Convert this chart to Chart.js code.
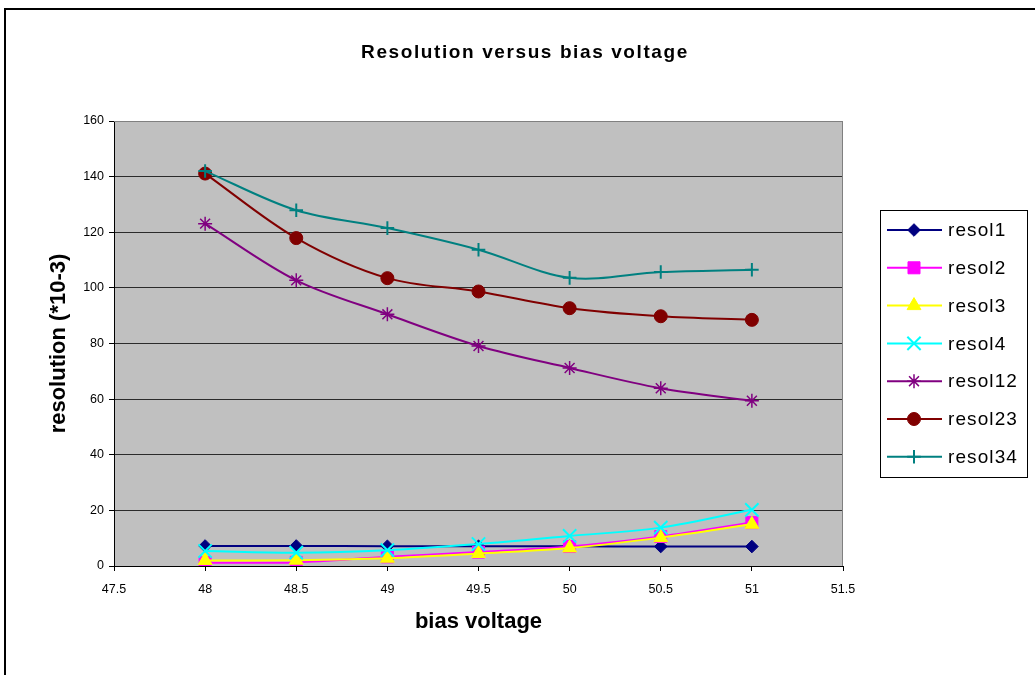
<!DOCTYPE html>
<html>
<head>
<meta charset="utf-8">
<title>Resolution versus bias voltage</title>
<script src="https://cdn.jsdelivr.net/npm/chart.js@4.4.1/dist/chart.umd.min.js"></script>
<style>
  body { margin: 0; background: #fff; }
  canvas { display: block; }
</style>
</head>
<body>
<canvas id="chart" width="1035" height="675"></canvas>
<script>
// bias voltage on x, resolution (*10-3) on y
const voltages = [48, 48.5, 49, 49.5, 50, 50.5, 51];
const resol1  = [7.2, 7.2, 7.1, 7.1, 7.1, 7.0, 7.0];
const resol2  = [1.2, 1.3, 3.3, 5.0, 7.0, 10.6, 15.6];
const resol3  = [2.0, 2.1, 2.8, 4.5, 6.5, 10.2, 15.0];
const resol4  = [5.4, 4.8, 5.7, 7.9, 10.8, 13.8, 20.2];
const resol12 = [123.1, 102.7, 90.5, 79.1, 71.2, 63.9, 59.4];
const resol23 = [141.1, 117.9, 103.5, 98.7, 92.7, 89.8, 88.5];
const resol34 = [142.0, 127.9, 121.5, 113.7, 103.6, 105.7, 106.5];

const seriesNames = ['resol1', 'resol2', 'resol3', 'resol4', 'resol12', 'resol23', 'resol34'];
const seriesValues = [resol1, resol2, resol3, resol4, resol12, resol23, resol34];

const xTicks = [47.5, 48, 48.5, 49, 49.5, 50, 50.5, 51, 51.5];
const yTicks = [0, 20, 40, 60, 80, 100, 120, 140, 160];

const FONT = '"Liberation Sans", Arial, sans-serif';

const markers = [
  { color: '#000080', style: 'rectRot', radius: 6.3, border: 1 },
  { color: '#ff00ff', style: 'rect', radius: 8.5, border: 1 },
  { color: '#ffff00', style: 'triangle', radius: 8, border: 1 },
  { color: '#00ffff', style: 'crossRot', radius: 9.4, border: 2 },
  { color: '#800080', style: 'star', radius: 7, border: 1.5 },
  { color: '#800000', style: 'circle', radius: 6.5, border: 1 },
  { color: '#008080', style: 'cross', radius: 6.8, border: 2 }
];

const datasets = seriesNames.map((name, i) => ({
  label: name,
  data: voltages.map((v, j) => ({ x: v, y: seriesValues[i][j] })),
  borderColor: markers[i].color,
  backgroundColor: markers[i].color,
  borderWidth: 2,
  tension: 0.33,
  pointStyle: markers[i].style,
  pointRadius: markers[i].radius,
  pointBorderWidth: markers[i].border,
  pointBackgroundColor: markers[i].color,
  pointBorderColor: markers[i].color,
  order: seriesNames.length - i
}));

const decor = {
  id: 'decor',
  beforeDraw(chart) {
    const { ctx, chartArea: a } = chart;
    ctx.save();
    ctx.fillStyle = '#fff';
    ctx.fillRect(0, 0, chart.width, chart.height);
    ctx.fillStyle = '#c0c0c0';
    ctx.fillRect(a.left, a.top, a.right - a.left, a.bottom - a.top);
    ctx.restore();
  },
  beforeDatasetsDraw(chart) {
    const { ctx, chartArea: a } = chart;
    ctx.save();
    ctx.strokeStyle = '#808080';
    ctx.lineWidth = 1;
    ctx.beginPath();
    ctx.moveTo(a.left, a.top + 0.5);
    ctx.lineTo(a.right - 0.5, a.top + 0.5);
    ctx.lineTo(a.right - 0.5, a.bottom);
    ctx.stroke();
    ctx.restore();
  },
  afterDraw(chart) {
    const { ctx } = chart;
    ctx.save();

    // outer chart frame
    ctx.strokeStyle = '#000';
    ctx.lineWidth = 2;
    ctx.strokeRect(5, 9, 1200, 1000);

    // title
    ctx.fillStyle = '#000';
    ctx.font = `bold 19px ${FONT}`;
    ctx.letterSpacing = '1.6px';
    ctx.textAlign = 'center';
    ctx.textBaseline = 'alphabetic';
    ctx.fillText('Resolution versus bias voltage', 525, 58);

    // legend box
    ctx.letterSpacing = '0px';
    ctx.lineWidth = 1;
    ctx.strokeRect(880.5, 210.5, 147, 267);

    ctx.font = `19px ${FONT}`;
    ctx.letterSpacing = '1.1px';
    ctx.textAlign = 'left';
    ctx.textBaseline = 'middle';
    chart.data.datasets.forEach((ds, i) => {
      const y = 230 + i * 37.8;
      ctx.strokeStyle = ds.borderColor;
      ctx.fillStyle = ds.borderColor;
      ctx.lineWidth = 2;
      ctx.beginPath();
      ctx.moveTo(887, y);
      ctx.lineTo(942, y);
      ctx.stroke();
      ctx.lineWidth = ds.pointBorderWidth;
      Chart.helpers.drawPoint(ctx, {
        pointStyle: ds.pointStyle,
        rotation: 0,
        radius: ds.pointRadius,
        borderWidth: ds.pointBorderWidth
      }, 914, y);
      ctx.fillStyle = '#000';
      ctx.fillText(ds.label, 948, y + 1);
    });
    ctx.letterSpacing = '0px';
    ctx.restore();
  }
};

new Chart(document.getElementById('chart'), {
  type: 'line',
  data: { datasets },
  options: {
    responsive: false,
    animation: false,
    devicePixelRatio: 1,
    layout: { padding: { top: 121, right: 192, bottom: 36, left: 42 } },
    plugins: {
      legend: { display: false },
      title: { display: false },
      tooltip: { enabled: false }
    },
    scales: {
      x: {
        type: 'linear',
        min: 47.5,
        max: 51.5,
        afterBuildTicks: s => { s.ticks = xTicks.map(v => ({ value: v })); },
        afterFit: s => { s.height = 73; },
        ticks: {
          color: '#000',
          padding: 11,
          font: { family: FONT, size: 12.5 },
          callback: v => String(v)
        },
        grid: { drawOnChartArea: false, drawTicks: true, tickLength: 5, tickColor: '#000' },
        border: { color: '#000', width: 1 },
        title: {
          display: true,
          text: 'bias voltage',
          color: '#000',
          font: { family: FONT, size: 22, weight: 'bold' },
          padding: { top: 4, bottom: 4 }
        }
      },
      y: {
        min: 0,
        max: 160,
        afterBuildTicks: s => { s.ticks = yTicks.map(v => ({ value: v })); },
        afterFit: s => { s.width = 72; },
        ticks: {
          color: '#000',
          padding: 5,
          font: { family: FONT, size: 12.5 },
          callback: v => String(v)
        },
        grid: {
          color: c => (c.tick && c.tick.value === 160 ? '#808080' : '#2b2b2b'),
          tickColor: '#000',
          tickLength: 5,
          lineWidth: 1
        },
        border: { color: '#000', width: 1 },
        title: {
          display: true,
          text: 'resolution (*10-3)',
          color: '#000',
          font: { family: FONT, size: 22, weight: 'bold' },
          padding: { top: 4, bottom: 4 }
        }
      }
    }
  },
  plugins: [decor]
});
</script>
</body>
</html>
